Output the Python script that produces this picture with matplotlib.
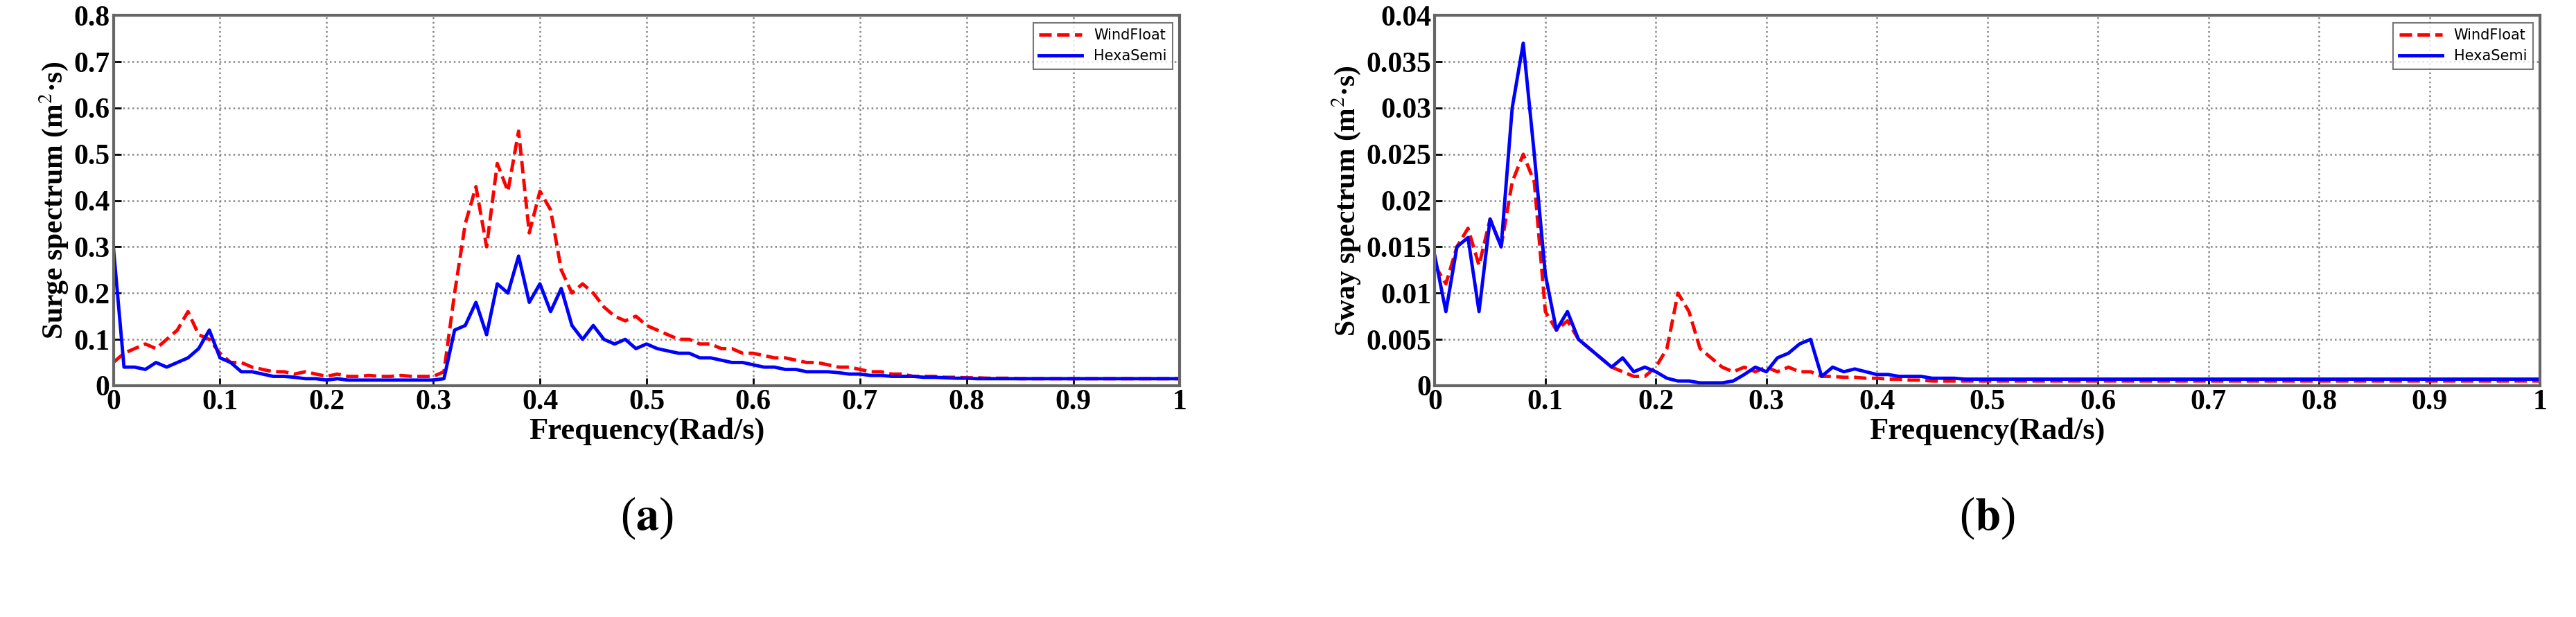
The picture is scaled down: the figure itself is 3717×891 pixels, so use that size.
import numpy as np
import matplotlib
matplotlib.use("Agg")
import matplotlib.pyplot as plt

freq = np.round(np.arange(0, 1.0001, 0.01), 2)

surge_windfloat = [0.05,0.07,0.08,0.09,0.08,0.10,0.12,0.16,0.11,0.10,
                   0.07,0.05,0.05,0.04,0.035,0.03,0.03,0.025,0.03,0.025,
                   0.02,0.025,0.02,0.02,0.022,0.02,0.02,0.022,0.02,0.02,
                   0.02,0.03,0.20,0.35,0.43,0.30,0.48,0.42,0.55,0.33,
                   0.42,0.38,0.25,0.20,0.22,0.20,0.17,0.15,0.14,0.15,
                   0.13,0.12,0.11,0.10,0.10,0.09,0.09,0.08,0.08,0.07,
                   0.07,0.065,0.06,0.06,0.055,0.05,0.05,0.045,0.04,0.04,
                   0.035,0.03,0.03,0.025,0.025,0.02,0.02,0.02,0.018,0.018,
                   0.017,0.017,0.016,0.016,0.016,0.015,0.015,0.015,0.015,0.015,
                   0.015,0.015,0.015,0.015,0.015,0.015,0.015,0.015,0.015,0.015,0.015]
surge_hexasemi = [0.30,0.04,0.04,0.035,0.05,0.04,0.05,0.06,0.08,0.12,
                  0.06,0.05,0.03,0.03,0.025,0.02,0.02,0.018,0.015,0.015,
                  0.012,0.015,0.012,0.012,0.012,0.012,0.012,0.012,0.012,0.012,
                  0.012,0.015,0.12,0.13,0.18,0.11,0.22,0.20,0.28,0.18,
                  0.22,0.16,0.21,0.13,0.10,0.13,0.10,0.09,0.10,0.08,
                  0.09,0.08,0.075,0.07,0.07,0.06,0.06,0.055,0.05,0.05,
                  0.045,0.04,0.04,0.035,0.035,0.03,0.03,0.03,0.028,0.025,
                  0.025,0.022,0.022,0.02,0.02,0.02,0.018,0.018,0.017,0.016,
                  0.016,0.015,0.015,0.015,0.015,0.015,0.015,0.015,0.015,0.015,
                  0.015,0.015,0.015,0.015,0.015,0.015,0.015,0.015,0.015,0.015,0.015]

sway_windfloat = [0.013,0.011,0.015,0.017,0.013,0.018,0.015,0.022,0.025,0.022,
                  0.008,0.006,0.007,0.005,0.004,0.003,0.002,0.0015,0.001,0.001,
                  0.002,0.004,0.010,0.008,0.004,0.003,0.002,0.0015,0.002,0.0015,
                  0.002,0.0015,0.002,0.0015,0.0015,0.001,0.001,0.0009,0.0009,0.0008,
                  0.0008,0.0007,0.0007,0.0006,0.0006,0.0005,0.0005,0.0005,0.0005,0.0005,
                  0.0005,0.0005,0.0005,0.0005,0.0005,0.0005,0.0005,0.0005,0.0005,0.0005,
                  0.0005,0.0005,0.0005,0.0005,0.0005,0.0005,0.0005,0.0005,0.0005,0.0005,
                  0.0005,0.0005,0.0005,0.0005,0.0005,0.0005,0.0005,0.0005,0.0005,0.0005,
                  0.0005,0.0005,0.0005,0.0005,0.0005,0.0005,0.0005,0.0005,0.0005,0.0005,
                  0.0005,0.0005,0.0005,0.0005,0.0005,0.0005,0.0005,0.0005,0.0005,0.0005,0.0005]
sway_hexasemi = [0.014,0.008,0.015,0.016,0.008,0.018,0.015,0.030,0.037,0.025,
                 0.012,0.006,0.008,0.005,0.004,0.003,0.002,0.003,0.0015,0.002,
                 0.0015,0.0008,0.0005,0.0005,0.0003,0.0003,0.0003,0.0005,0.0012,0.002,
                 0.0015,0.003,0.0035,0.0045,0.005,0.001,0.002,0.0015,0.0018,0.0015,
                 0.0012,0.0012,0.001,0.001,0.001,0.0008,0.0008,0.0008,0.0007,0.0007,
                 0.0007,0.0007,0.0007,0.0007,0.0007,0.0007,0.0007,0.0007,0.0007,0.0007,
                 0.0007,0.0007,0.0007,0.0007,0.0007,0.0007,0.0007,0.0007,0.0007,0.0007,
                 0.0007,0.0007,0.0007,0.0007,0.0007,0.0007,0.0007,0.0007,0.0007,0.0007,
                 0.0007,0.0007,0.0007,0.0007,0.0007,0.0007,0.0007,0.0007,0.0007,0.0007,
                 0.0007,0.0007,0.0007,0.0007,0.0007,0.0007,0.0007,0.0007,0.0007,0.0007,0.0007]

labels = ["WindFloat", "HexaSemi"]
panels = [
    ("Surge spectrum (m$^2$·s)", surge_windfloat, surge_hexasemi, 0.8, 0.1, "a"),
    ("Sway spectrum (m$^2$·s)", sway_windfloat, sway_hexasemi, 0.04, 0.005, "b"),
]

plt.rcParams['font.family'] = ['Liberation Serif', 'DejaVu Serif']
plt.rcParams['mathtext.fontset'] = 'stix'
fig = plt.figure(figsize=(37.17, 8.91), dpi=100)
positions = [[0.044, 0.375, 0.414, 0.60], [0.557, 0.375, 0.429, 0.60]]

for pos, (ylab, wf, hs, ymax, ystep, tag) in zip(positions, panels):
    ax = fig.add_axes(pos)
    ax.plot(freq, wf, color='red', ls='--', lw=3.5, label=labels[0])
    ax.plot(freq, hs, color='blue', ls='-', lw=3.5, label=labels[1])
    ax.set_xlim(0, 1)
    ax.set_ylim(0, ymax)
    ax.set_xticks(np.arange(0, 1.01, 0.1))
    ax.set_xticklabels([f"{v:g}" for v in np.arange(0, 1.01, 0.1).round(1)])
    yt = np.arange(0, ymax + ystep / 2, ystep)
    ax.set_yticks(yt)
    ax.set_yticklabels([f"{v:g}" for v in yt.round(4)])
    ax.grid(True, ls=':', color='#888888', lw=1.8)
    for s in ax.spines.values():
        s.set_color('#666666')
        s.set_linewidth(3)
    ax.tick_params(labelsize=30, width=2, length=8, direction='in', colors='black')
    for lb in ax.get_xticklabels() + ax.get_yticklabels():
        lb.set_fontweight('bold')
    ax.set_xlabel("Frequency(Rad/s)", fontsize=32, fontweight='bold', labelpad=2)
    ax.set_ylabel(ylab, fontsize=30, fontweight='bold')
    leg = ax.legend(loc='upper right', prop={'family': 'DejaVu Sans', 'size': 15},
                    handlelength=3, frameon=True, fancybox=False, edgecolor='#555555')
    leg.get_frame().set_linewidth(1.5)
    fig.text(pos[0] + pos[2] / 2, 0.16, r"($\mathbf{" + tag + r"}$)", ha='center', va='center', fontsize=48)

fig.savefig("out.png", dpi=100)
